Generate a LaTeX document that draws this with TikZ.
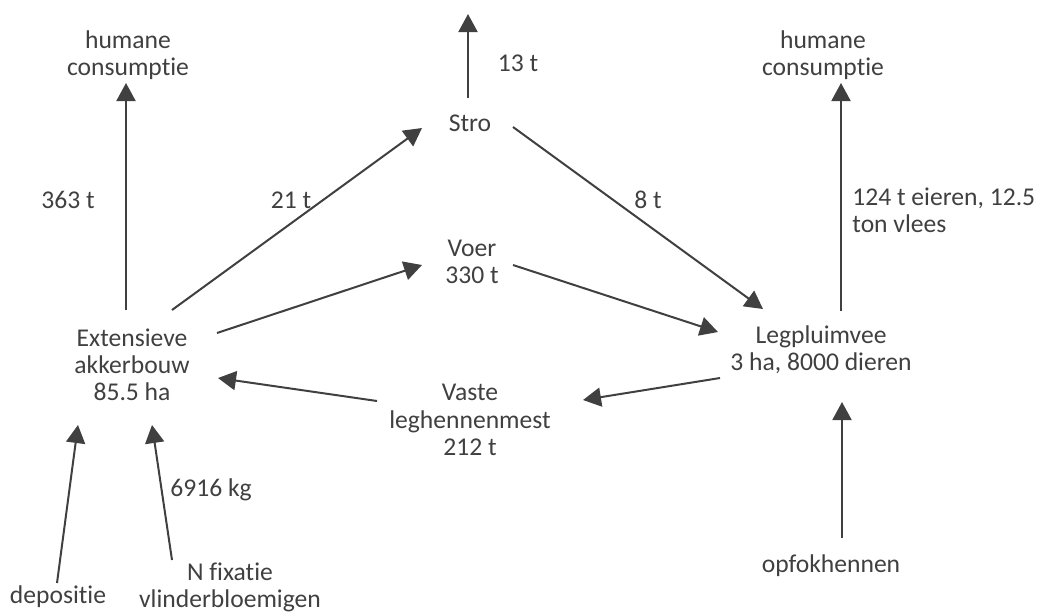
\documentclass[tikz,border=0pt]{standalone}
\usepackage{fontspec}
\setmainfont{Carlito}[Ligatures={NoCommon,NoContextual}]
\usetikzlibrary{arrows.meta}

\definecolor{ink}{HTML}{404040}

\begin{document}
\begin{tikzpicture}[x=0.5pt, y=-0.5pt,
	flow/.style={-{Triangle[length=9pt, width=9.5pt]}, line width=1pt, draw=ink},
	txt/.style={text=ink, align=center, inner sep=0pt,
		font=\fontsize{12.8}{13.6}\selectfont}]
	\useasboundingbox (0,0) rectangle (1050,612);

	% stations
	\node[txt] (akker) at (132,365) {Extensieve\\akkerbouw\\85.5 ha};
	\node[txt] (stro)  at (470,123) {Stro};
	\node[txt] (voer)  at (472,262) {Voer\\330 t};
	\node[txt] (leg)   at (821,350) {Legpluimvee\\3 ha, 8000 dieren};
	\node[txt] (mest)  at (470,420) {Vaste\\leghennenmest\\212 t};

	% in and out
	\node[txt] (humleft)  at (128,55)  {humane\\consumptie};
	\node[txt] (humright) at (823,55)  {humane\\consumptie};
	\node[txt] (opfok)    at (831,566) {opfokhennen};
	\node[txt] (depos)    at (58,597)  {depositie};
	\node[txt] (nfix)     at (230,587) {N fixatie\\vlinderbloemigen};
	\coordinate (stroout) at (468,14);

	% amounts
	\node[txt] (lblhum)  at (68,200)  {363 t};
	\node[txt] (lblstro) at (291,200) {21 t};
	\node[txt] (lbluit)  at (518,63)  {13 t};
	\node[txt] (lblleg)  at (648,200) {8 t};
	\node[txt] (lblnfix) at (211,490) {6916 kg};
	\node[txt, align=left, anchor=west] (lbleieren) at (852,210)
		{124 t eieren, 12.5\\ton vlees};

	\draw[flow] ([shift={(-6,-55)}]akker.center) -- ([shift={(-2,28)}]humleft.center);
	\draw[flow] ([shift={(40,-55)}]akker.center) -- ([shift={(-48,5)}]stro.center);
	\draw[flow] ([shift={(85,-32)}]akker.center) -- ([shift={(-50,3)}]voer.center);
	\draw[flow] ([shift={(-2,-25)}]stro.center) -- (stroout);
	\draw[flow] ([shift={(43,4)}]stro.center) -- ([shift={(-58,-41)}]leg.center);
	\draw[flow] ([shift={(41,3)}]voer.center) -- ([shift={(-103,-18)}]leg.center);
	\draw[flow] ([shift={(20,-39)}]leg.center) -- ([shift={(18,28)}]humright.center);
	\draw[flow] ([shift={(-101,28)}]leg.center) -- ([shift={(113,-20)}]mest.center);
	\draw[flow] ([shift={(-93,-19)}]mest.center) -- ([shift={(86,13)}]akker.center);
	\draw[flow] ([shift={(11,-28)}]opfok.center) -- ([shift={(21,52)}]leg.center);
	\draw[flow] ([shift={(-1,-14)}]depos.center) -- ([shift={(-54,60)}]akker.center);
	\draw[flow] ([shift={(-58,-27)}]nfix.center) -- ([shift={(20,60)}]akker.center);
\end{tikzpicture}
\end{document}
